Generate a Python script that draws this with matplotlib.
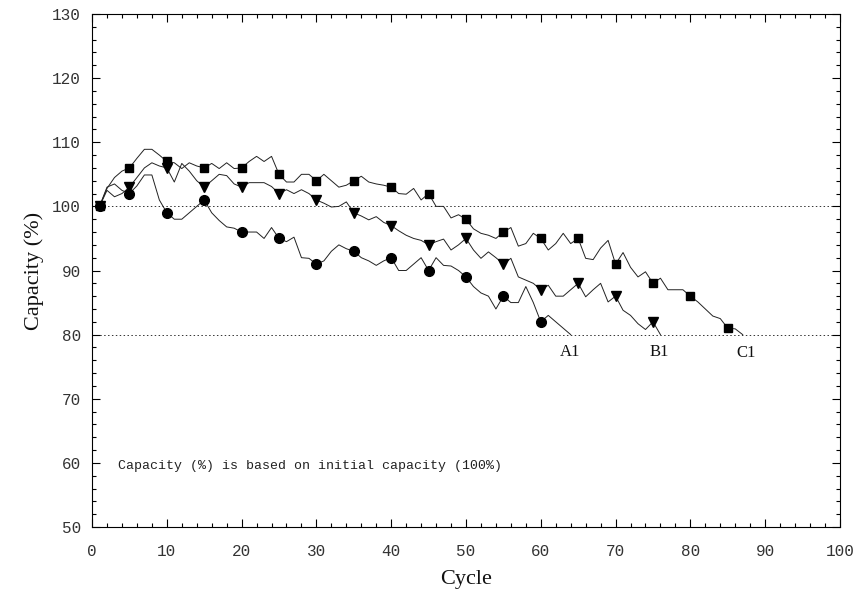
import matplotlib
matplotlib.use("Agg")
import matplotlib.pyplot as plt
from matplotlib.ticker import MultipleLocator

# Cycle-by-cycle capacity (%)
cycles_a1 = list(range(1, 65))
cap_a1 = [100, 103, 103.5, 102.5, 102, 103.2, 104.9, 104.9, 101, 99,
          98, 98, 99, 100, 101, 99, 97.8, 96.8, 96.6, 96,
          96, 96, 95, 96.7, 95, 94.5, 95.2, 92, 91.9, 91,
          91.5, 93, 94, 93.4, 93, 92, 91.5, 90.8, 91.5, 92,
          90, 90, 91, 92, 90, 92, 90.8, 90.7, 90, 89,
          87.5, 86.5, 86, 84, 86, 85, 85, 87.5, 85, 82,
          83, 82, 81, 80]

cycles_b1 = list(range(1, 77))
cap_b1 = [100, 102.5, 101.5, 102, 103, 104.5, 106, 106.8, 106.3, 106,
          103.8, 106.7, 105.5, 104, 103, 104, 105, 104.8, 103.5, 103,
          103.7, 103.7, 103.7, 103.1, 102, 102.6, 102, 102.6, 102, 101,
          100.5, 99.9, 100, 100.7, 99, 98.5, 97.9, 98.4, 97.5, 97,
          96.2, 95.5, 95, 94.7, 94, 94.5, 94.9, 93.2, 94, 95,
          93.2, 91.9, 92.9, 92, 91, 91.9, 89, 88.5, 88, 87,
          87.7, 86, 86, 87, 88, 85.9, 87, 88, 85.1, 86,
          83.8, 83, 81.7, 80.8, 82, 80]

cycles_c1 = list(range(1, 88))
cap_c1 = [100, 102.8, 104.5, 105.5, 106, 107.5, 108.9, 108.9, 108, 107,
          106.8, 105.9, 106.8, 106.3, 106, 106.7, 105.9, 106.8, 105.9, 106,
          107, 107.8, 107, 107.8, 105, 103.8, 103.8, 105, 105, 104,
          105, 104, 103, 103.3, 104, 104.7, 103.8, 103.5, 103.3, 103,
          102, 101.9, 102.8, 101, 102, 100, 100, 98.2, 98.7, 98,
          96.5, 95.8, 95.5, 95, 96, 96.7, 93.8, 94.2, 95.8, 95,
          93.2, 94.2, 95.8, 94.2, 95, 91.9, 91.7, 93.5, 94.7, 91,
          92.8, 90.5, 89, 89.8, 88, 88.8, 87, 87, 87, 86,
          85.1, 84, 82.9, 82.5, 81, 80.9, 80]

marker_cycles = [1, 5, 10, 15, 20, 25, 30, 35, 40, 45, 50, 55, 60, 65, 70, 75, 80, 85]
ref_levels = [100, 80]
end_labels = ["A1", "B1", "C1"]
end_label_x = [63.9, 75.9, 87.5]
end_label_y = [78.6, 78.6, 78.4]
note = "Capacity (%) is based on initial capacity (100%)"

fig = plt.figure(figsize=(8.57, 5.94), dpi=100)
ax = fig.add_axes([0.1074, 0.1128, 0.8727, 0.8636])

for lvl in ref_levels:
    ax.axhline(lvl, color="#333333", lw=0.7, ls=(0, (1.5, 2.5)), zorder=1)


def marks(cyc):
    return [i for i, c in enumerate(cyc) if c in marker_cycles]


ax.plot(cycles_c1, cap_c1, color="#222222", lw=0.7, marker="s", ms=5.5,
        mfc="black", mec="black", markevery=marks(cycles_c1), zorder=3)
ax.plot(cycles_b1, cap_b1, color="#222222", lw=0.7, marker="v", ms=6.5,
        mfc="black", mec="black", markevery=marks(cycles_b1), zorder=3)
ax.plot(cycles_a1, cap_a1, color="#222222", lw=0.7, marker="o", ms=7,
        mfc="black", mec="black", markevery=marks(cycles_a1), zorder=4)

for t, xx, yy in zip(end_labels, end_label_x, end_label_y):
    ax.text(xx, yy, t, ha="center", va="top", fontsize=12,
            family="Liberation Serif", color="#111111")

ax.text(3.5, 59.5, note, ha="left", va="center", fontsize=9.5,
        family="Liberation Mono", color="#222222")

ax.set_xlim(0, 100)
ax.set_ylim(50, 130)
ax.xaxis.set_major_locator(MultipleLocator(10))
ax.yaxis.set_major_locator(MultipleLocator(10))
ax.xaxis.set_minor_locator(MultipleLocator(2))
ax.yaxis.set_minor_locator(MultipleLocator(2))
ax.tick_params(which="both", direction="in", top=True, right=True,
               width=0.8, labelsize=11.5, labelcolor="#333333")
ax.tick_params(axis="x", pad=12)
ax.tick_params(axis="y", pad=8)
ax.tick_params(which="major", length=6)
ax.tick_params(which="minor", length=3)
for lab in ax.get_xticklabels() + ax.get_yticklabels():
    lab.set_family("Liberation Mono")
for s in ax.spines.values():
    s.set_linewidth(0.8)

ax.set_xlabel("Cycle", fontsize=16, family="Liberation Serif", labelpad=8,
              color="#111111")
ax.set_ylabel("Capacity (%)", fontsize=16, family="Liberation Serif", labelpad=6,
              color="#111111")

fig.savefig("out.png", dpi=100)
